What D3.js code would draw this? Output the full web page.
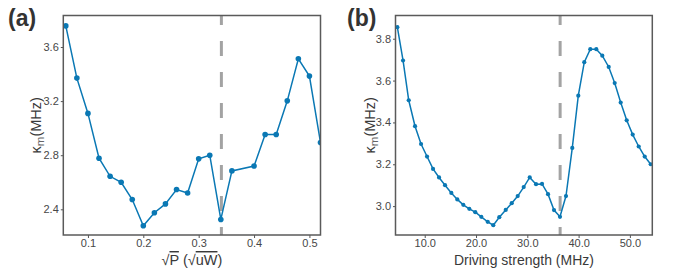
<!DOCTYPE html>
<html>
<head>
<meta charset="utf-8">
<script src="https://cdn.jsdelivr.net/npm/d3@7"></script>
<style>
  body { margin: 0; background: #fff; }
  svg { display: block; font-family: "Liberation Sans", Arial, sans-serif; }
</style>
</head>
<body>
<script>
// panel (a): kappa_m vs sqrt(P)
const sqrtP = [0.06, 0.08, 0.10, 0.12, 0.14, 0.16, 0.18, 0.20, 0.22, 0.24, 0.26, 0.28,
               0.30, 0.32, 0.34, 0.36, 0.40, 0.42, 0.44, 0.46, 0.48, 0.50, 0.52];
const kappaA = [3.756, 3.370, 3.109, 2.778, 2.644, 2.600, 2.472, 2.278, 2.375, 2.440, 2.546, 2.520,
                2.773, 2.800, 2.325, 2.684, 2.720, 2.953, 2.953, 3.202, 3.513, 3.385, 2.894];

// panel (b): kappa_m vs driving strength
const drive = [4.66, 5.77, 6.88, 8.11, 9.28, 10.45, 11.62, 12.79, 13.96, 15.19, 16.35, 17.52,
               18.69, 19.86, 21.03, 22.28, 23.37, 24.54, 25.79, 26.96, 28.13, 29.30, 30.47,
               31.70, 32.87, 34.04, 35.20, 36.37, 37.54, 38.77, 39.94, 41.11, 42.28, 43.45,
               44.62, 45.87, 47.04, 48.21, 49.38, 50.55, 51.72, 52.89, 54.06];
const kappaB = [3.855, 3.696, 3.506, 3.382, 3.297, 3.237, 3.178, 3.137, 3.100, 3.063, 3.032, 3.006,
                2.987, 2.971, 2.949, 2.925, 2.909, 2.947, 2.982, 3.014, 3.048, 3.091, 3.137,
                3.105, 3.106, 3.057, 2.981, 2.949, 3.048, 3.278, 3.528, 3.688, 3.750, 3.750,
                3.719, 3.665, 3.588, 3.495, 3.410, 3.342, 3.285, 3.237, 3.200];

const ticksXA = [0.1, 0.2, 0.3, 0.4, 0.5];
const ticksYA = [2.4, 2.8, 3.2, 3.6];
const ticksXB = [10, 20, 30, 40, 50];
const ticksYB = [3.0, 3.2, 3.4, 3.6, 3.8];

const W = 683, H = 277;
const blue = "#0a78b4";

const svg = d3.select("body").append("svg")
  .attr("width", W)
  .attr("height", H);

function panel(cfg) {
  const x = d3.scaleLinear().domain(cfg.xDomain).range([cfg.left, cfg.right]);
  const y = d3.scaleLinear().domain(cfg.yDomain).range([cfg.bottom, cfg.top]);
  const g = svg.append("g");

  const clipId = "clip-" + cfg.name;
  svg.append("clipPath").attr("id", clipId)
    .append("rect")
    .attr("x", cfg.left).attr("y", cfg.top)
    .attr("width", cfg.right - cfg.left).attr("height", cfg.bottom - cfg.top);

  // axes (ticks + labels only, frame drawn separately)
  const xa = g.append("g")
    .attr("transform", `translate(0,${cfg.bottom})`)
    .call(d3.axisBottom(x).tickValues(cfg.xTicks).tickFormat(d3.format(".1f"))
      .tickSize(3).tickPadding(1.5));
  const ya = g.append("g")
    .attr("transform", `translate(${cfg.left},0)`)
    .call(d3.axisLeft(y).tickValues(cfg.yTicks).tickFormat(d3.format(".1f"))
      .tickSize(2.5).tickPadding(2));
  [xa, ya].forEach(a => {
    a.select(".domain").remove();
    a.selectAll("line").attr("stroke", "#555").attr("stroke-width", 1);
    a.selectAll("text").attr("fill", "#474747").style("font-size", "11px")
      .style("font-family", "'Liberation Sans', Arial, sans-serif");
  });

  // dashed marker line
  g.append("line")
    .attr("clip-path", `url(#${clipId})`)
    .attr("x1", x(cfg.dash)).attr("x2", x(cfg.dash))
    .attr("y1", cfg.top).attr("y2", cfg.bottom + 10)
    .attr("stroke", "#a3a3a3")
    .attr("stroke-width", 3)
    .attr("stroke-dasharray", "15,16")
    .attr("stroke-dashoffset", 5.5);

  const pts = cfg.xs.map((d, i) => [d, cfg.ys[i]]);
  const plot = g.append("g").attr("clip-path", `url(#${clipId})`);
  plot.append("path")
    .datum(pts)
    .attr("fill", "none")
    .attr("stroke", blue)
    .attr("stroke-width", 1.5)
    .attr("d", d3.line().x(d => x(d[0])).y(d => y(d[1])));
  plot.selectAll("circle").data(pts).join("circle")
    .attr("cx", d => x(d[0]))
    .attr("cy", d => y(d[1]))
    .attr("r", cfg.r)
    .attr("fill", blue);

  // frame
  g.append("rect")
    .attr("x", cfg.left).attr("y", cfg.top)
    .attr("width", cfg.right - cfg.left).attr("height", cfg.bottom - cfg.top)
    .attr("fill", "none")
    .attr("stroke", "#5a5a5a")
    .attr("stroke-width", 1.5);

  // panel letter
  g.append("text")
    .attr("x", cfg.letterX).attr("y", 26)
    .attr("fill", "#333")
    .style("font-size", "23px")
    .style("font-weight", "bold")
    .text(cfg.letter);

  // y title: kappa_m (MHz)
  const yt = g.append("text")
    .attr("transform", `translate(${cfg.yTitleX},${(cfg.top + cfg.bottom) / 2}) rotate(-90)`)
    .attr("text-anchor", "middle")
    .attr("fill", "#3a3a3a")
    .style("font-size", "14.5px");
  yt.append("tspan").text("κ");
  yt.append("tspan").attr("dy", 3).style("font-size", "11.5px").attr("fill", "#666").text("m");
  yt.append("tspan").attr("dy", -3).text("(MHz)");

  return g;
}

const ga = panel({
  name: "a", letter: "(a)", letterX: 8,
  left: 63.3, right: 320.5, top: 15.5, bottom: 235,
  xDomain: [0.0555, 0.52], yDomain: [2.21, 3.833],
  xTicks: ticksXA, yTicks: ticksYA,
  xs: sqrtP, ys: kappaA, dash: 0.341, r: 2.8, yTitleX: 41
});

const gb = panel({
  name: "b", letter: "(b)", letterX: 347,
  left: 395.5, right: 652.3, top: 15.5, bottom: 235,
  xDomain: [4.3, 54.37], yDomain: [2.862, 3.911],
  xTicks: ticksXB, yTicks: ticksYB,
  xs: drive, ys: kappaB, dash: 36.4, r: 2.1, yTitleX: 375
});

// x titles
const xtA = ga.append("text")
  .attr("x", (63.3 + 320.5) / 2).attr("y", 265)
  .attr("text-anchor", "middle")
  .attr("fill", "#3a3a3a")
  .style("font-size", "14.5px");
xtA.append("tspan").text("√");
xtA.append("tspan").style("text-decoration", "overline").text("P");
xtA.append("tspan").text(" (√");
xtA.append("tspan").style("text-decoration", "overline").text("uW");
xtA.append("tspan").text(")");

gb.append("text")
  .attr("x", (395.5 + 652.3) / 2).attr("y", 265)
  .attr("text-anchor", "middle")
  .attr("fill", "#3a3a3a")
  .style("font-size", "14px")
  .text("Driving strength (MHz)");
</script>
</body>
</html>
